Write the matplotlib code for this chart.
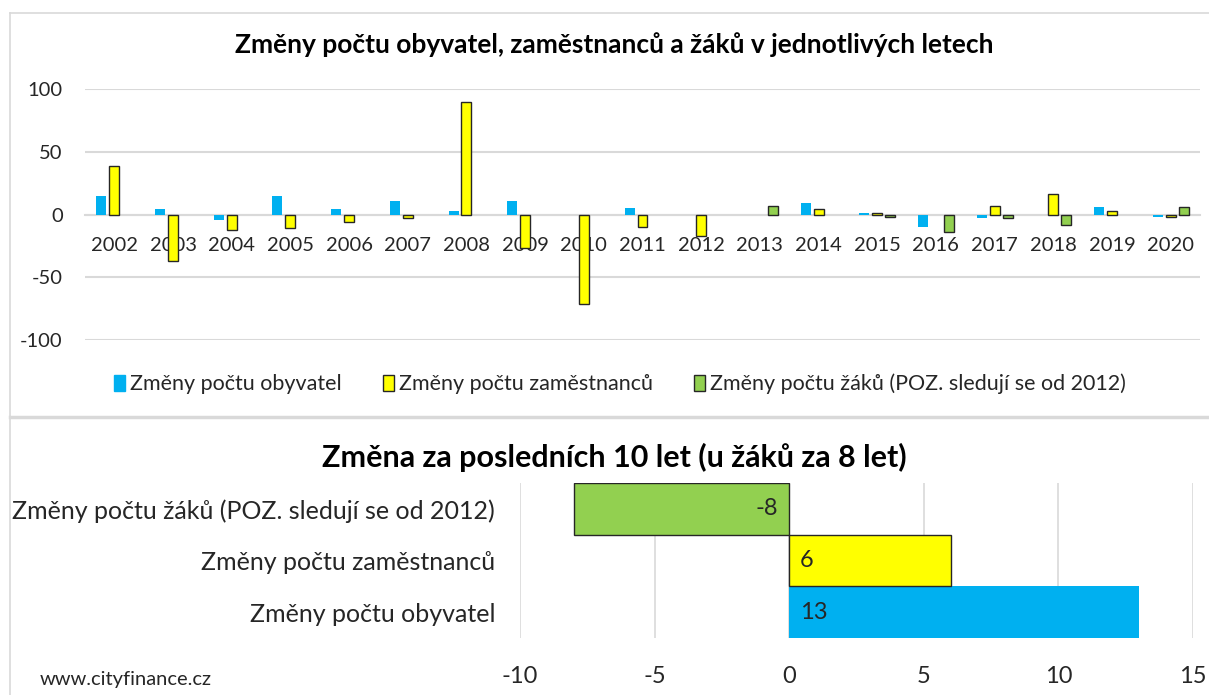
import numpy as np
import matplotlib.pyplot as plt
from matplotlib.lines import Line2D

plt.rcParams['font.family'] = ['Lato', 'DejaVu Sans']
plt.rcParams['axes.unicode_minus'] = False

W, H = 1209, 695

years = [str(y) for y in range(2002, 2021)]
obyvatel = [15, 4, -4, 15, 4, 11, 3, 11, 0, 5, 0, 0, 9, 1, -10, -3, 0, 6, -2]
zamestnanci = [39, -37, -12, -11, -6, -3, 90, -27, -71, -10, -17, np.nan, 4, 1, np.nan, 7, 16, 3, -2]
zaci = [np.nan] * 10 + [np.nan, 7, np.nan, -2, -14, -3, -8, np.nan, 6]

names = ['Změny počtu obyvatel', 'Změny počtu zaměstnanců',
         'Změny počtu žáků (POZ. sledují se od 2012)']
last10 = [13, 6, -8]

blue = '#00B0F0'
yellow = '#FFFF00'
green = '#92D050'
grid_c = '#d9d9d9'
txt = '#262626'


def box(left, top, right, bottom):
    return [left / W, 1 - bottom / H, (right - left) / W, (bottom - top) / H]


fig = plt.figure(figsize=(W / 100, H / 100), dpi=100)

# frame lines of the two excel charts
fig.add_artist(Line2D([10 / W, 10 / W], [0, 1 - 13 / H], color=grid_c, lw=1.2))
fig.add_artist(Line2D([10 / W, 1], [1 - 13 / H, 1 - 13 / H], color=grid_c, lw=1.2))
fig.add_artist(Line2D([10 / W, 1], [1 - 417 / H, 1 - 417 / H], color=grid_c, lw=2.5))

# ---- top chart ----
ax = fig.add_axes(box(85, 89, 1200, 340))
x = np.arange(len(years))
bw = 0.17
off = 0.22
for vals, dx, col, lw in [(obyvatel, -off, blue, 0),
                          (zamestnanci, 0, yellow, 1.0),
                          (zaci, off, green, 1.0)]:
    v = np.array(vals, dtype=float)
    m = ~np.isnan(v)
    ax.bar(x[m] + dx, v[m], width=bw, color=col, edgecolor='#262626', linewidth=lw, zorder=3)

ax.set_xlim(-0.5, len(years) - 0.5)
ax.set_ylim(-100, 100)
ax.set_yticks([-100, -50, 0, 50, 100])
ax.yaxis.grid(True, color=grid_c, lw=1.5)
ax.set_axisbelow(True)
for s in ['top', 'right', 'left']:
    ax.spines[s].set_visible(False)
ax.spines['bottom'].set_position(('data', 0))
ax.spines['bottom'].set_color(grid_c)
ax.spines['bottom'].set_linewidth(1.5)
ax.set_xticks(x)
ax.set_xticklabels(years)
ax.tick_params(axis='x', length=0, pad=16, labelsize=14.5, labelcolor=txt)
ax.tick_params(axis='y', length=0, pad=16, labelsize=14.5, labelcolor=txt)

fig.text(614 / W, 1 - 45 / H, 'Změny počtu obyvatel, zaměstnanců a žáků v jednotlivých letech',
         ha='center', va='center', fontsize=19, fontweight='bold', color='black')

handles = [plt.Rectangle((0, 0), 1, 1, fc=blue, ec=blue),
           plt.Rectangle((0, 0), 1, 1, fc=yellow, ec='#262626'),
           plt.Rectangle((0, 0), 1, 1, fc=green, ec='#262626')]
fig.legend(handles, names, loc='center', bbox_to_anchor=(620 / W, 1 - 384 / H), ncol=3,
           frameon=False, fontsize=15.5, handlelength=0.5, handleheight=0.8,
           handletextpad=0.25, columnspacing=1.9, labelcolor=txt)

# ---- bottom chart ----
ax2 = fig.add_axes(box(520, 483, 1193, 638))
y = np.arange(3)
cols = [blue, yellow, green]
lws = [0, 1.0, 1.0]
ax2.barh(y, last10, height=1.0, color=cols, edgecolor='#262626', linewidth=lws, zorder=3)
for yi, v in zip(y, last10):
    if v < 0:
        ax2.text(-0.4, yi, str(v), ha='right', va='center', fontsize=17, color=txt, zorder=4)
    else:
        ax2.text(0.4, yi, str(v), ha='left', va='center', fontsize=17, color=txt, zorder=4)
ax2.set_xlim(-10, 15)
ax2.set_ylim(-0.5, 2.5)
ax2.set_xticks([-10, -5, 0, 5, 10, 15])
ax2.set_yticks(y)
ax2.set_yticklabels(names)
ax2.xaxis.grid(True, color=grid_c, lw=1.2)
ax2.set_axisbelow(True)
for s in ['top', 'right', 'bottom', 'left']:
    ax2.spines[s].set_visible(False)
ax2.tick_params(axis='x', length=0, pad=20, labelsize=17, labelcolor=txt)
ax2.tick_params(axis='y', length=0, pad=18, labelsize=18, labelcolor=txt)

fig.text(614 / W, 1 - 457 / H, 'Změna za posledních 10 let (u žáků za 8 let)',
         ha='center', va='center', fontsize=22, fontweight='bold', color='black')

fig.text(40 / W, 1 - 680 / H, 'www.cityfinance.cz', ha='left', va='center',
         fontsize=14.5, color=txt)

fig.savefig('out.png', dpi=100)
